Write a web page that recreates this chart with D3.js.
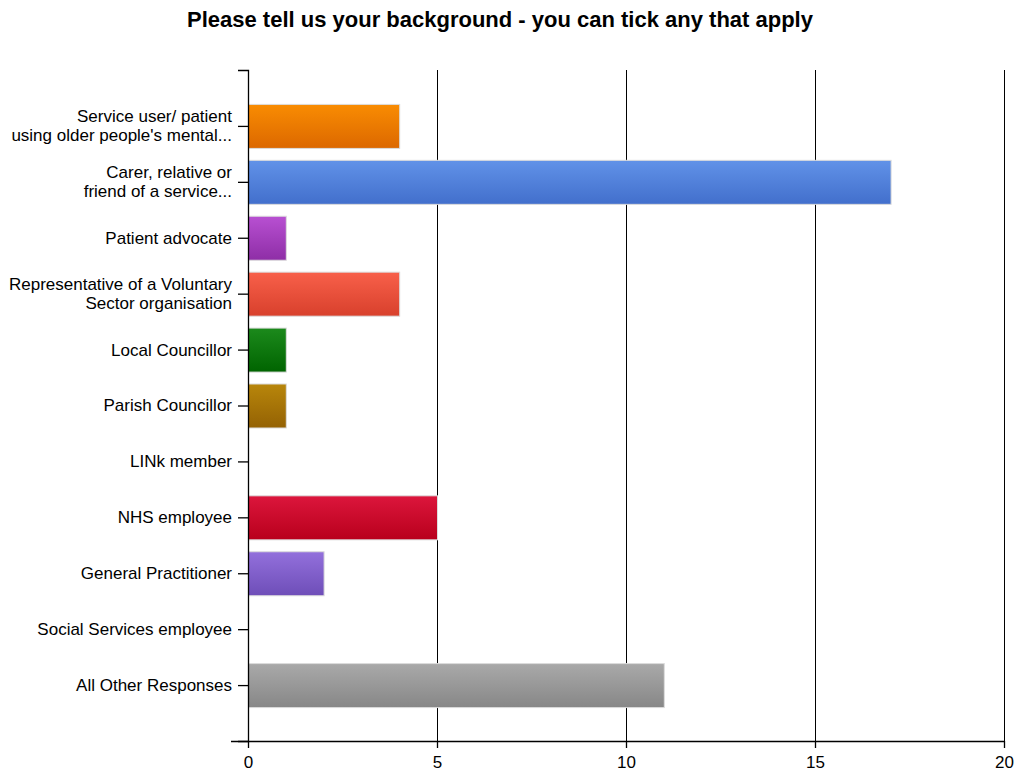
<!DOCTYPE html>
<html><head><meta charset="utf-8">
<script src="https://cdn.jsdelivr.net/npm/d3@7"></script>
<style>body{margin:0;background:#fff}svg{display:block}</style>
</head><body>
<script>
const categories = [
  ["Service user/ patient", "using older people's mental..."],
  ["Carer, relative or", "friend of a service..."],
  ["Patient advocate"],
  ["Representative of a Voluntary", "Sector organisation"],
  ["Local Councillor"],
  ["Parish Councillor"],
  ["LINk member"],
  ["NHS employee"],
  ["General Practitioner"],
  ["Social Services employee"],
  ["All Other Responses"]
];
const values = [4, 17, 1, 4, 1, 1, 0, 5, 2, 0, 11];
const colorsTop = ["#f98c02", "#6192e8", "#b850d2", "#f8604a", "#1c8a1c", "#b8860b", "#999", "#dc163c", "#9370dc", "#999", "#a9a9a9"];
const colorsBottom = ["#dc6800", "#426fcc", "#8e2ea6", "#d8402c", "#006400", "#946204", "#777", "#b8001c", "#6e4eb8", "#777", "#878787"];
const xTicks = [0, 5, 10, 15, 20];
const title = "Please tell us your background - you can tick any that apply";

(function () {
const W = 1015, H = 771;
const svg = d3.select("body").append("svg").attr("width", W).attr("height", H);
const defs = svg.append("defs");
values.forEach((v, i) => {
  const g = defs.append("linearGradient").attr("id", "g" + i).attr("x1", 0).attr("y1", 0).attr("x2", 0).attr("y2", 1);
  g.append("stop").attr("offset", "0%").attr("stop-color", colorsTop[i]);
  g.append("stop").attr("offset", "100%").attr("stop-color", colorsBottom[i]);
});

const mLeft = 248, mRight = 1004, mTop = 70, mBottom = 741;
const x = d3.scaleLinear().domain([0, 20]).range([mLeft, mRight]);
const idx = categories.map((c, i) => i);
const y = d3.scalePoint().domain(idx).range([mTop, mBottom]).padding(1);
const barH = 44;

svg.append("text").attr("x", 500).attr("y", 27).attr("text-anchor", "middle")
  .attr("font-family", "Liberation Sans, Arial, sans-serif").attr("font-weight", "bold")
  .attr("font-size", 22).attr("fill", "#000").text(title);

// grid lines
svg.append("g").selectAll("line").data(xTicks.slice(1)).join("line")
  .attr("x1", d => x(d)).attr("x2", d => x(d)).attr("y1", mTop).attr("y2", mBottom)
  .attr("stroke", "#000").attr("stroke-width", 1).attr("shape-rendering", "crispEdges");

// bars
svg.append("g").selectAll("rect")
  .data(values.map((v, i) => ({ v, i })).filter(d => d.v > 0))
  .join("rect")
  .attr("x", x(0) + 0.5).attr("y", d => y(d.i) - barH / 2 + 0.5)
  .attr("width", d => x(d.v) - x(0)).attr("height", barH)
  .attr("fill", d => `url(#g${d.i})`).attr("stroke", "#dcdcdc").attr("stroke-width", 1);

// y axis
const yAxis = d3.axisLeft(y).tickSize(10).tickFormat("").tickSizeOuter(10);
const ya = svg.append("g").attr("transform", `translate(${mLeft},0)`).call(yAxis);
ya.select(".domain").attr("stroke", "#000").attr("stroke-width", 1.3);
ya.selectAll(".tick line").attr("stroke", "#000").attr("stroke-width", 1.3);

// y labels
const lab = svg.append("g").attr("font-family", "Liberation Sans, Arial, sans-serif").attr("font-size", 17).attr("fill", "#000");
categories.forEach((c, i) => {
  const t = lab.append("text").attr("text-anchor", "end").attr("x", mLeft - 16);
  const lh = 19;
  const y0 = y(i) - (c.length - 1) * lh / 2;
  c.forEach((line, j) => {
    t.append("tspan").attr("x", mLeft - 16).attr("y", y0 + j * lh).attr("dy", "0.35em").text(line);
  });
});

// x axis
const xAxis = d3.axisBottom(x).tickValues(xTicks).tickSize(7).tickPadding(8).tickSizeOuter(0);
const xa = svg.append("g").attr("transform", `translate(0,${mBottom})`).call(xAxis);
xa.select(".domain").attr("d", `M${mLeft - 17},0.5H${mRight}`).attr("stroke", "#000").attr("stroke-width", 1.3);
xa.selectAll(".tick line").attr("stroke", "#000").attr("stroke-width", 1.3);
xa.selectAll(".tick text").attr("font-family", "Liberation Sans, Arial, sans-serif")
  .attr("font-size", 17).attr("fill", "#000");
})();
</script>
</body></html>
